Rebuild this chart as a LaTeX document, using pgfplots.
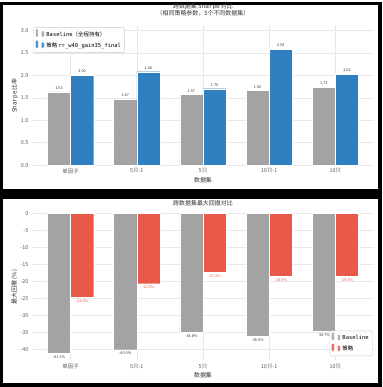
\documentclass[border=0pt]{standalone}
\usepackage{pgfplots}
\pgfplotsset{compat=1.18}
\usepackage{fontspec}
\setmainfont{Noto Sans CJK SC}
\newfontfamily\mono{DejaVu Sans Mono}
\definecolor{cbase}{HTML}{A3A3A3}
\definecolor{cstrat}{HTML}{2F7FC1}
\definecolor{cred}{HTML}{E8594A}
\definecolor{cgrid}{HTML}{E8E8E8}
\definecolor{ctxt}{HTML}{333333}
\pgfplotsset{
  common/.style={
    scale only axis,
    width=344bp,
    xmin=-0.585, xmax=4.585,
    xtick={0,1,2,3,4},
    xticklabels={单因子,5只-1,5只,10只-1,10只},
    grid=major,
    major grid style={cgrid, line width=0.4pt},
    axis line style={draw=none},
    major tick length=0pt,
    tick label style={font=\fontsize{5.5}{6}\selectfont, text=ctxt!80},
    /pgf/number format/assume math mode=true,
    label style={font=\fontsize{6}{7}\selectfont, text=ctxt},
    xlabel={数据集},
    title style={font=\fontsize{6}{7.5}\selectfont, text=ctxt, align=center},
    legend cell align=left,
    legend style={font=\fontsize{5.5}{6.5}\selectfont, draw=gray!40, fill=white, fill opacity=0.85, text opacity=1, rounded corners=1pt, inner sep=1.5pt, row sep=0pt},
    legend image code/.code={\fill[#1] (0bp,-1.6bp) rectangle (9bp,1.6bp);},
    ybar=0pt, bar width=0.35,
  }
}
\begin{document}
\begin{tikzpicture}[x=1bp,y=1bp]
\fill[black] (0,0) rectangle (384,387);
\fill[white] (3,199) rectangle (380,384);
\fill[white] (3,4) rectangle (380,189);
% top panel
\begin{axis}[common,
  at={(32bp,223bp)}, anchor=south west,
  height=140bp,
  ymin=0, ymax=3.1,
  ytick={0,0.5,1,1.5,2,2.5,3},
  yticklabel style={/pgf/number format/fixed,/pgf/number format/precision=1,/pgf/number format/fixed zerofill},
  xlabel style={yshift=3bp},
  ylabel={{\mono Sharpe} 比率},
  ylabel style={yshift=-4bp},
  title={跨数据集 {\mono Sharpe} 对比\\（相同策略参数，5个不同数据集）},
  legend style={at={(0.005,0.99)}, anchor=north west},
  nodes near coords,
  nodes near coords style={font=\fontsize{3.8}{4}\selectfont, text=ctxt, /pgf/number format/fixed, /pgf/number format/precision=2, /pgf/number format/fixed zerofill, yshift=-1bp},
]
\addplot[fill=cbase, draw=white, line width=0.3pt] coordinates {(0,1.63) (1,1.47) (2,1.57) (3,1.66) (4,1.73)};
\addlegendentry{{\mono Baseline}（全程持有）}
\addplot[fill=cstrat, draw=white, line width=0.3pt] coordinates {(0,2.00) (1,2.08) (2,1.70) (3,2.58) (4,2.02)};
\addlegendentry{策略 {\mono rr\_w40\_gain35\_final}}
\end{axis}
% bottom panel
\begin{axis}[common,
  at={(32bp,26.7bp)}, anchor=south west,
  height=147.6bp,
  ymin=-43.16, ymax=0,
  ytick={0,-5,-10,-15,-20,-25,-30,-35,-40},
  xlabel style={yshift=3bp},
  ylabel={最大回撤 (\%)},
  ylabel style={yshift=-4bp},
  title={跨数据集最大回撤对比},
  title style={yshift=-2bp},
  legend style={at={(0.995,0.03)}, anchor=south east},
  nodes near coords={\pgfmathprintnumber[fixed,precision=1,fixed zerofill]{\pgfplotspointmeta}\%},
  nodes near coords style={font=\fontsize{3.8}{4}\selectfont, yshift=1bp},
]
\addplot[fill=cbase, draw=white, line width=0.3pt, nodes near coords style={text=ctxt}] coordinates {(0,-41.1) (1,-40.0) (2,-34.8) (3,-36.0) (4,-34.7)};
\addlegendentry{{\mono Baseline}}
\addplot[fill=cred, draw=white, line width=0.3pt, nodes near coords style={text=cred}] coordinates {(0,-24.5) (1,-20.6) (2,-17.2) (3,-18.5) (4,-18.3)};
\addlegendentry{策略}
\end{axis}
\end{tikzpicture}
\end{document}
